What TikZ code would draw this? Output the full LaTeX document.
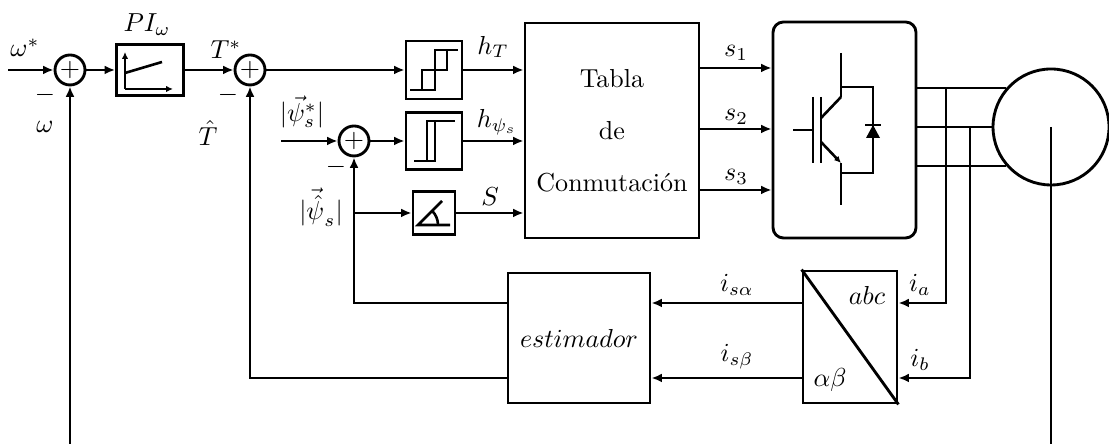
\documentclass[tikz,border=0pt]{standalone}
\usepackage{tikz}
\usetikzlibrary{calc,arrows.meta,positioning}

\newcommand{\pxu}{0.0135cm}

\tikzset{
  sumnode/.style={draw, circle, line width=1.1pt, minimum size=30*\pxu, inner sep=0pt},
  blockbox/.style 2 args={draw, rectangle, line width=1.1pt, minimum width=#1*\pxu,
    minimum height=#2*\pxu, inner sep=0pt},
  sig/.style={line width=1pt},
  lbl/.style={inner sep=0.5pt},
  smalltip/.style={-{Latex[length=2.6pt,width=2.4pt]}},
}

\begin{document}
\begin{tikzpicture}[x=\pxu, y=\pxu, >={Latex[length=4pt,width=3.4pt]}]
  \useasboundingbox (0,0) rectangle (1109,444);

  % blocks
  \node[sumnode] (sum1) at (70,374) {$+$};
  \node[blockbox={67}{51}] (pi) at (150,374) {};
  \node[sumnode] (sum2) at (250,374) {$+$};
  \node[blockbox={56}{58}] (hystT) at (434,374) {};
  \node[sumnode] (sum3) at (354,303) {$+$};
  \node[blockbox={56}{57}] (hystF) at (434,303) {};
  \node[blockbox={42}{43}] (ang) at (434,231) {};
  \node[blockbox={174}{215}, align=center] (tab) at (612,313.5)
    {Tabla\\[8pt]de\\[8pt]Conmutación};
  \node[blockbox={143}{216}, rounded corners=4pt] (inv) at (844.5,314) {};
  \node[draw, circle, line width=1.1pt, minimum size=116*\pxu, inner sep=0pt]
    (motor) at (1051,317) {};
  \node[blockbox={94}{132}] (abc) at (850,107) {};
  \node[blockbox={142}{130}] (est) at (579,106) {$estimador$};

  \coordinate (win) at (8,374);
  \coordinate (fin) at (281,303);
  \coordinate (wfb) at (70,0);
  \coordinate (ra) at (0,141);
  \coordinate (rb) at (0,66);
  \coordinate (ta) at (946,0);
  \coordinate (tb) at (970,0);
  \foreach \y [count=\i] in {376,315,254}
    \coordinate (sw\i) at (0,\y);

  % forward path
  \draw[sig, ->] (win) -- (sum1);
  \draw[sig, ->] (sum1) -- (pi);
  \draw[sig, ->] (pi) -- (sum2);
  \draw[sig, ->] (sum2) -- (hystT);
  \draw[sig, ->] (hystT) -- (hystT -| tab.west);
  \draw[sig, ->] (fin) -- (sum3);
  \draw[sig, ->] (sum3) -- (hystF);
  \draw[sig, ->] (hystF) -- (hystF -| tab.west);
  \draw[sig, ->] (ang) -- (ang -| tab.west);
  \foreach \i in {1,2,3}
    \draw[sig, ->] (tab.east |- sw\i) -- (inv.west |- sw\i);

  % feedback
  \draw[sig, ->] (est.west |- ra) -| (sum3.south);
  \draw[sig, ->] (sum3.south |- ang) -- (ang);
  \draw[sig, ->] (est.west |- rb) -| (sum2.south);
  \draw[sig, ->] (wfb) -- (sum1.south);
  \draw[sig, ->] (abc.west |- ra) -- (est.east |- ra);
  \draw[sig, ->] (abc.west |- rb) -- (est.east |- rb);
  \draw[line width=1.1pt] (abc.north west) -- (abc.south east);

  % motor side
  \foreach \a in {139,180,221}
    \draw[sig] (inv.east |- motor.\a) -- (motor.\a);
  \draw[sig, ->] (ta |- motor.139) |- (abc.east |- ra);
  \draw[sig, ->] (tb |- motor.180) |- (abc.east |- rb);
  \draw[sig] (motor.center) -- (motor.center |- wfb);

  % block icons
  \begin{scope}[shift={(pi.center)}, line width=1pt]
    \draw[smalltip] (-25,-19) -- (-25,18);
    \draw[smalltip] (-25,-19) -- (23,-19);
    \draw (-25,-3) -- (12,8);
  \end{scope}
  \begin{scope}[shift={(hystT.center)}, line width=1pt]
    \draw (-24,-20) -- (1,-20) -- (1,20) -- (24,20);
    \draw (-12,-20) -- (-12,0) -- (13,0) -- (13,20);
  \end{scope}
  \begin{scope}[shift={(hystF.center)}, line width=1pt]
    \draw (-20,-20) -- (1,-20) -- (1,20);
    \draw (-7,-20) -- (-7,20) -- (21,20);
  \end{scope}
  \begin{scope}[shift={(ang.center)}, line width=1pt]
    \draw (16,-12) -- (-16,-12) -- (8,12);
    \draw (4,-12) arc[start angle=0, end angle=45, radius=20];
  \end{scope}

  % igbt with diode
  \begin{scope}[line width=1pt]
    \draw (841,391) -- (841,347);
    \draw (841,357) -- (873,357) -- (873,271) -- (841,271);
    \draw (841,281) -- (841,239);
    \draw (813,347) -- (813,281);
    \draw (793,314) -- (813,314);
    \draw (821,347) -- (821,281);
    \draw (821,326) -- (841,347);
    \draw[smalltip] (821,302) -- (841,281);
    \fill (866,306) -- (880,306) -- (873,319) -- cycle;
    \draw (865,319) -- (881,319);
  \end{scope}

  % labels
  \node[lbl] (lwref) at (25,396) {$\omega^*$};
  \node[lbl] (lm1) at (45,349) {$-$};
  \node[lbl] (lw) at (45,317) {$\omega$};
  \node[lbl] (lpi) at (147,419) {$PI_\omega$};
  \node[lbl] (ltref) at (226,394) {$T^*$};
  \node[lbl] (lm2) at (228,349) {$-$};
  \node[lbl] (lthat) at (208,311) {$\hat{T}$};
  \node[lbl] (lpsiref) at (302,332) {$|\vec{\psi}_s^*|$};
  \node[lbl] (lm3) at (336,277) {$-$};
  \node[lbl] (lpsihat) at (321,237) {$|\vec{\hat{\psi}}_s|$};
  \node[lbl] (lht) at (493,397) {$h_T$};
  \node[lbl] (lhpsi) at (497,322) {$h_{\psi_s}$};
  \node[lbl] (lsec) at (490,247) {$S$};
  \foreach \y [count=\i] in {391,327,267}
    \node[lbl] (ls\i) at (736,\y) {$s_\i$};
  \node[lbl] (labc) at (867,149) {$abc$};
  \node[lbl] (lab) at (830,64) {$\alpha\beta$};
  \node[lbl] (lia) at (920,159) {$i_a$};
  \node[lbl] (lib) at (920,84) {$i_b$};
  \node[lbl] (lisa) at (737,159) {$i_{s\alpha}$};
  \node[lbl] (lisb) at (737,87) {$i_{s\beta}$};
\end{tikzpicture}
\end{document}
